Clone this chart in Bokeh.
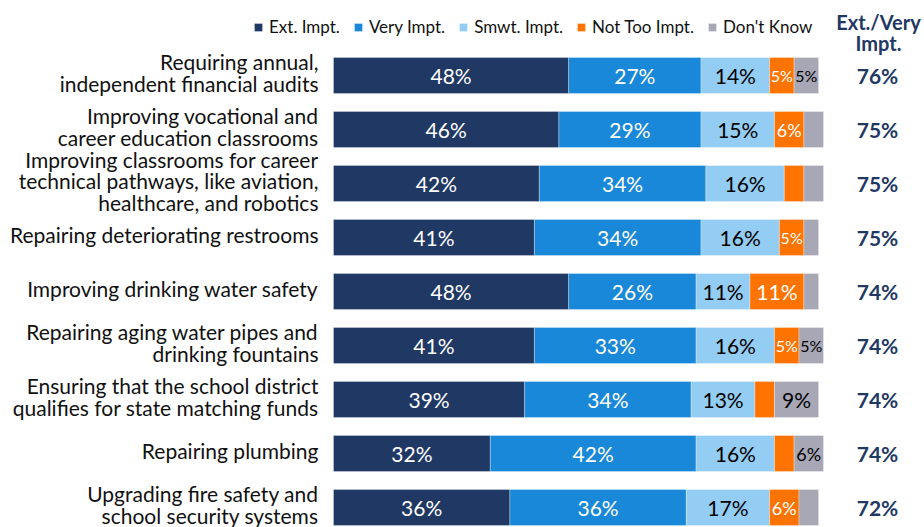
from bokeh.plotting import figure
from bokeh.models import ColumnDataSource, Range1d, Legend, LegendItem, Label
from bokeh.core.properties import value
from bokeh.embed import file_html
from bokeh.resources import INLINE

categories = [
    "Requiring annual,\nindependent financial audits",
    "Improving vocational and\ncareer education classrooms",
    "Improving classrooms for career\ntechnical pathways, like aviation,\nhealthcare, and robotics",
    "Repairing deteriorating restrooms",
    "Improving drinking water safety",
    "Repairing aging water pipes and\ndrinking fountains",
    "Ensuring that the school district\nqualifies for state matching funds",
    "Repairing plumbing",
    "Upgrading fire safety and\nschool security systems",
]
ext_impt = [48, 46, 42, 41, 48, 41, 39, 32, 36]
very_impt = [27, 29, 34, 34, 26, 33, 34, 42, 36]
smwt_impt = [14, 15, 16, 16, 11, 16, 13, 16, 17]
not_too_impt = [5, 6, 4, 5, 11, 5, 4, 4, 6]
dont_know = [5, 4, 4, 3, 3, 5, 9, 6, 4]
ext_very_total = [76, 75, 75, 75, 74, 74, 74, 74, 72]

series_names = ["Ext. Impt.", "Very Impt.", "Smwt. Impt.", "Not Too Impt.", "Don't Know"]
series_keys = ["ext", "very", "smwt", "nott", "dk"]
colors = ["#1F3864", "#1A88D9", "#93CDF4", "#FF7300", "#A7A7B5"]
label_colors = ["white", "white", "black", "white", "black"]

FONT = "Lato"
NAVY = "#1F3864"

W, H = 924, 527
PX = 4.9  # px per percent
x0 = -333 / PX
x1 = x0 + W / PX
y_top = (0 - 75) / 54.0
y_bot = (H - 75) / 54.0

p = figure(width=W, height=H, output_backend="svg", toolbar_location=None,
           x_range=Range1d(x0, x1), y_range=Range1d(y_bot, y_top),
           min_border=0, min_border_left=0, min_border_right=0,
           min_border_top=0, min_border_bottom=0)
p.axis.visible = False
p.grid.visible = False
p.outline_line_color = None
p.background_fill_color = "white"
p.border_fill_color = "white"

ys = list(range(len(categories)))
data = dict(y=ys, ext=ext_impt, very=very_impt, smwt=smwt_impt, nott=not_too_impt, dk=dont_know)
src = ColumnDataSource(data)
renderers = p.hbar_stack(series_keys, y="y", height=36 / 54.0, color=colors,
                         line_color="white", line_width=0.5, line_alpha=0.6, source=src)

# segment labels
series_vals = [ext_impt, very_impt, smwt_impt, not_too_impt, dont_know]
for k, vals in enumerate(series_vals):
    xs, yy, tx, sizes = [], [], [], []
    for i, v in enumerate(vals):
        left = sum(series_vals[j][i] for j in range(k))
        if v >= 5:
            xs.append(left + v / 2.0)
            yy.append(i)
            tx.append(f"{v}%")
            if v >= 9:
                sizes.append("21px")
            elif v >= 6:
                sizes.append("18px")
            else:
                sizes.append("16px")
    s = ColumnDataSource(dict(x=xs, y=yy, t=tx, fs=sizes))
    p.text(x="x", y="y", text="t", source=s, text_font=value(FONT), text_font_size="fs",
           text_color=label_colors[k], text_align="center", text_baseline="middle")

# category labels
cs = ColumnDataSource(dict(x=[-15 / PX] * len(categories), y=ys, t=categories))
p.text(x="x", y="y", text="t", source=cs, text_font=value(FONT), text_font_size="21px",
       text_color="#111111", text_align="right", text_baseline="middle",
       text_line_height=0.86, y_offset=-3)

# total column
ts = ColumnDataSource(dict(x=[(877 - 333) / PX] * len(categories), y=ys,
                           t=[f"{v}%" for v in ext_very_total]))
p.text(x="x", y="y", text="t", source=ts, text_font=value(FONT), text_font_size="21px",
       text_font_style="bold", text_color=NAVY, text_align="center", text_baseline="middle")

p.add_layout(Label(x=878, y=H - 32, x_units="screen", y_units="screen",
                   text="Ext./Very\nImpt.", text_font=FONT, text_font_size="20px",
                   text_font_style="bold", text_color=NAVY, text_align="center",
                   text_baseline="middle", text_line_height=0.85))

legend = Legend(items=[LegendItem(label=n, renderers=[r]) for n, r in zip(series_names, renderers)],
                orientation="horizontal", location=(253, H - 27 - 10),
                glyph_width=10, glyph_height=10, label_standoff=6, spacing=13,
                padding=0, margin=0, border_line_color=None, background_fill_alpha=0,
                label_text_font=FONT, label_text_font_size="17px", label_text_color="#111111",
                label_height=20)
p.add_layout(legend)

open("out.html", "w").write(file_html(p, INLINE))
